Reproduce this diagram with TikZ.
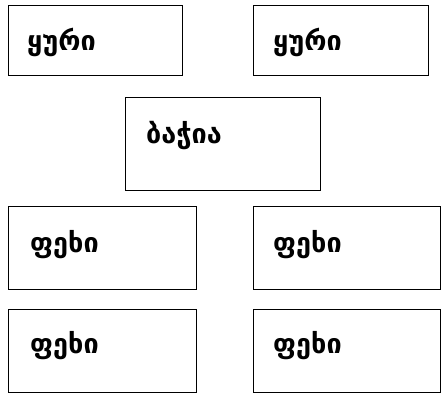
\documentclass[tikz,border=0pt]{standalone}
\usepackage{fontspec}
\newfontfamily\geo[Script=Georgian]{DejaVu Sans Bold}
\begin{document}
\begin{tikzpicture}[x=1pt,y=-1pt,
  box/.style={draw=black,line width=1.3pt,anchor=north west,inner sep=0pt},
  lbl/.style={anchor=base west,inner sep=0pt,font=\geo\fontsize{27}{30}\selectfont}]
\useasboundingbox (0,0) rectangle (441,402);
\node[box,minimum width=174pt,minimum height=70pt] (b1) at (8,5) {};
\node[box,minimum width=175pt,minimum height=70pt] (b2) at (253,5) {};
\node[box,minimum width=195pt,minimum height=93pt] (b3) at (125,97) {};
\node[box,minimum width=188pt,minimum height=83pt] (b4) at (8,206) {};
\node[box,minimum width=187pt,minimum height=83pt] (b5) at (253,206) {};
\node[box,minimum width=188pt,minimum height=83pt] (b6) at (8,309) {};
\node[box,minimum width=187pt,minimum height=83pt] (b7) at (253,309) {};
\node[lbl] (t1) at (27,50) {ყური};
\node[lbl] (t2) at (273,50) {ყური};
\node[lbl] (t3) at (146,143) {ბაჭია};
\node[lbl] (t4) at (30,252) {ფეხი};
\node[lbl] (t5) at (273,252) {ფეხი};
\node[lbl] (t6) at (30,353) {ფეხი};
\node[lbl] (t7) at (273,353) {ფეხი};
\end{tikzpicture}
\end{document}
